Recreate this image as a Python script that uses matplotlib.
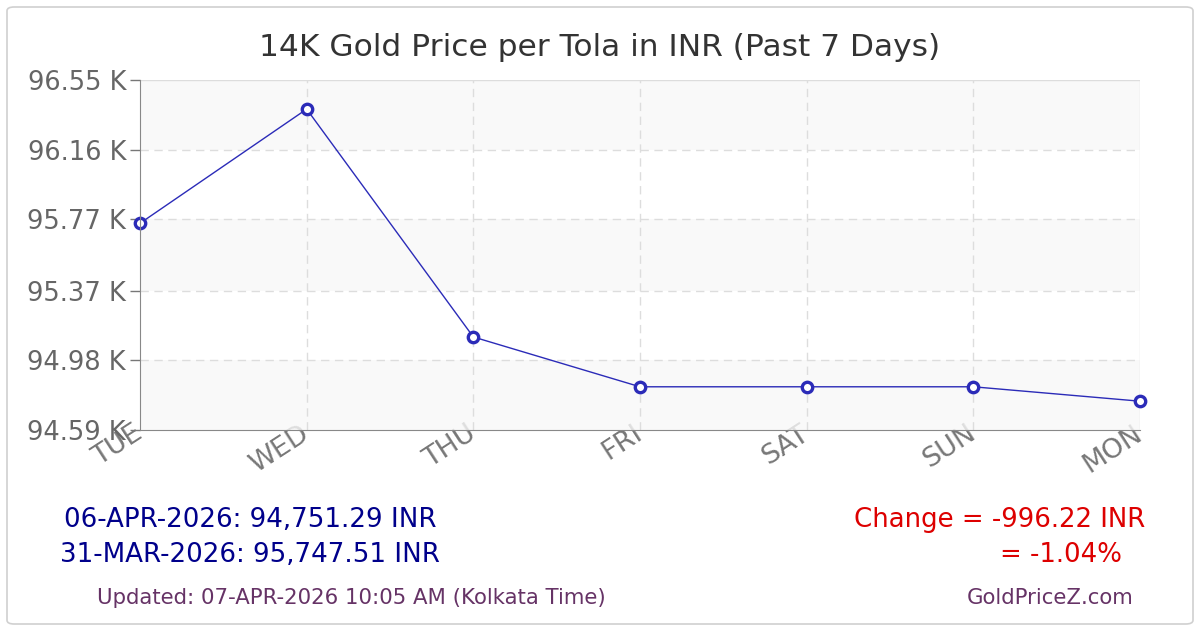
import matplotlib
matplotlib.use("Agg")
import matplotlib.pyplot as plt
from matplotlib.patches import FancyBboxPatch

days = ["TUE", "WED", "THU", "FRI", "SAT", "SUN", "MON"]
prices = [95747.51, 96387.0, 95111.0, 94832.0, 94832.0, 94832.0, 94751.29]
yticks = [94590, 94980, 95370, 95770, 96160, 96550]
ytick_labels = ["94.59 K", "94.98 K", "95.37 K", "95.77 K", "96.16 K", "96.55 K"]

plt.rcParams['font.family'] = ['DejaVu Sans']

fig = plt.figure(figsize=(12, 6.3), dpi=100)
W, H = 1200, 630

# outer border
border = FancyBboxPatch((7 / W, 6 / H), 1186 / W, 617 / H,
                        boxstyle="round,pad=0,rounding_size=0.006",
                        transform=fig.transFigure, facecolor="white",
                        edgecolor="#d0d0d0", linewidth=1.2, zorder=-10)
fig.patches.append(border)

ax = fig.add_axes([140 / W, 1 - 430 / H, 1000 / W, 350 / H])
ax.set_zorder(5)
ax.set_facecolor("none")
x = list(range(len(days)))
ax.set_xlim(0, len(days) - 1)
ax.set_ylim(yticks[0], yticks[-1])

# alternating bands (semi-transparent so tick labels show faintly through)
for i in range(len(yticks) - 1):
    if i % 2 == 0:
        ax.axhspan(yticks[i], yticks[i + 1], color="#f8f8f8", alpha=0.8, zorder=0, lw=0)

for yv in yticks[1:-1]:
    ax.axhline(yv, color="#dddddd", lw=1, ls=(0, (6, 4)), zorder=1)
for xv in x[1:-1]:
    ax.axvline(xv, color="#dddddd", lw=1, ls=(0, (6, 4)), zorder=1)
ax.axvline(x[-1], color="#e2e2e2", lw=1, zorder=1)
ax.axhline(yticks[-1], color="#dddddd", lw=1, zorder=1)

ax.plot(x, prices, color="#2b2bb8", lw=1, marker="o", markersize=7.5,
        markerfacecolor="white", markeredgecolor="#2b2bb8", markeredgewidth=2.4,
        zorder=3, clip_on=False)

ax.set_yticks(yticks)
ax.set_yticklabels(ytick_labels)
ax.set_xticks(x)
ax.set_xticklabels(days, rotation=33, ha="right", va="center", rotation_mode="anchor")
ax.tick_params(axis="y", labelsize=18.5, colors="#777777", length=7, width=1, pad=3, labelcolor="#666666")
ax.tick_params(axis="x", labelsize=19.5, length=0, pad=1, labelcolor="#777777")
ax.xaxis.set_zorder(-1)
for s in ["top", "right"]:
    ax.spines[s].set_visible(False)
ax.spines["left"].set_color("#888888")
ax.spines["bottom"].set_color("#888888")
ax.spines["left"].set_zorder(4)
ax.spines["bottom"].set_zorder(4)

fig.text(600 / W, 1 - 48 / H, "14K Gold Price per Tola in INR (Past 7 Days)",
         ha="center", va="center", fontsize=22.5, color="#333333")

fig.text(250 / W, 1 - 520 / H, "06-APR-2026: 94,751.29 INR", ha="center", va="center",
         fontsize=18.8, color="#00008b")
fig.text(250 / W, 1 - 555 / H, "31-MAR-2026: 95,747.51 INR", ha="center", va="center",
         fontsize=18.8, color="#00008b")
fig.text(1145 / W, 1 - 520 / H, "Change = -996.22 INR", ha="right", va="center",
         fontsize=18.7, color="#dd0000")
fig.text(1122 / W, 1 - 555 / H, "= -1.04%", ha="right", va="center",
         fontsize=18.7, color="#dd0000")
fig.text(351 / W, 1 - 598 / H, "Updated: 07-APR-2026 10:05 AM (Kolkata Time)", ha="center",
         va="center", fontsize=15.3, color="#663366")
fig.text(1050 / W, 1 - 598 / H, "GoldPriceZ.com", ha="center", va="center",
         fontsize=15.3, color="#663366")

fig.savefig("out.png", dpi=100)
